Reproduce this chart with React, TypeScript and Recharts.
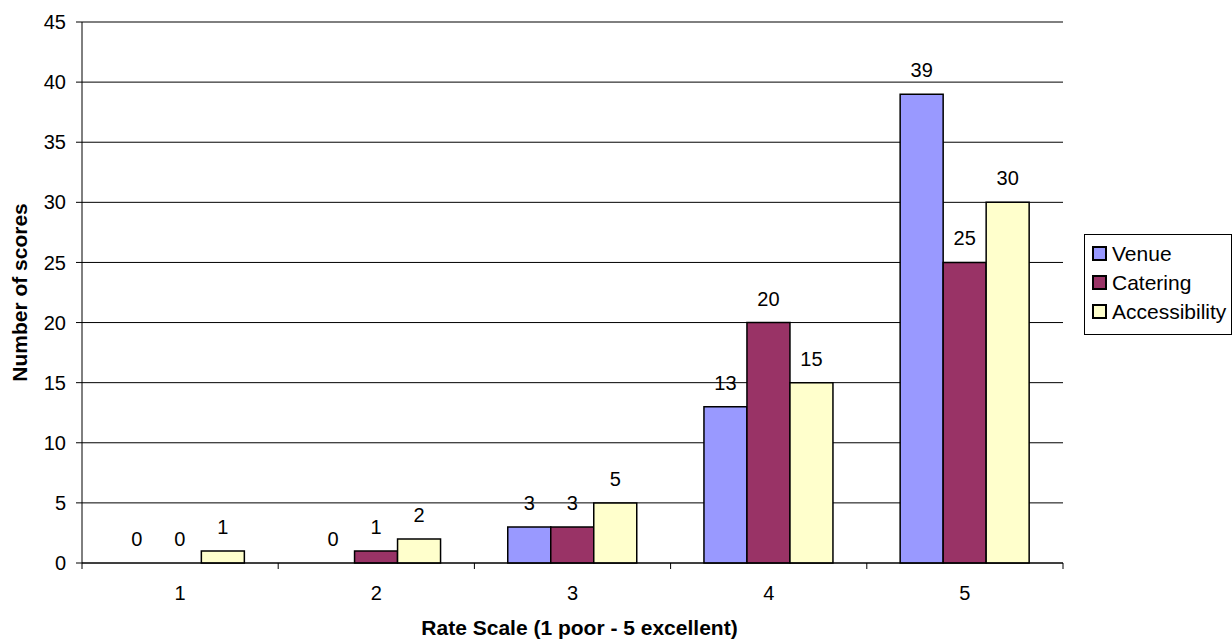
import React from "react";
import {
  BarChart,
  Bar,
  XAxis,
  YAxis,
  CartesianGrid,
  LabelList,
  Rectangle,
} from "recharts";

const categories = ["1", "2", "3", "4", "5"];
const venue = [0, 0, 3, 13, 39];
const catering = [0, 1, 3, 20, 25];
const accessibility = [1, 2, 5, 15, 30];
const yTicks = [0, 5, 10, 15, 20, 25, 30, 35, 40, 45];

const series = [
  { key: "venue", name: "Venue", color: "#9999FF" },
  { key: "catering", name: "Catering", color: "#993366" },
  { key: "accessibility", name: "Accessibility", color: "#FFFFCC" },
];

const data = categories.map((c, i) => ({
  rate: c,
  venue: venue[i],
  catering: catering[i],
  accessibility: accessibility[i],
}));

const FONT = "'Liberation Sans', Arial, sans-serif";
const W = 1232;
const H = 640;
const PLOT_LEFT = 82;
const PLOT_RIGHT = 169;
const HALF_BAND = (W - PLOT_LEFT - PLOT_RIGHT) / categories.length / 2;

function XTick(props: any) {
  const { x, y, payload, index } = props;
  const last = index === categories.length - 1;
  return (
    <g>
      <line x1={x - HALF_BAND} x2={x - HALF_BAND} y1={y} y2={y + 6} stroke="#000" />
      {last && (
        <line x1={x + HALF_BAND} x2={x + HALF_BAND} y1={y} y2={y + 6} stroke="#000" />
      )}
      <text x={x} y={y + 23} dy="0.71em" textAnchor="middle" fontSize={20} fill="#000" fontFamily={FONT}>
        {payload.value}
      </text>
    </g>
  );
}

function YLabel(props: any) {
  const vb = props.viewBox || { x: 0, y: 22, width: 82, height: 541 };
  const cx = 19;
  const cy = vb.y + vb.height / 2;
  return (
    <text
      x={cx}
      y={cy}
      transform={`rotate(-90 ${cx} ${cy})`}
      textAnchor="middle"
      dominantBaseline="central"
      fontSize={21}
      fontWeight="bold"
      fontFamily={FONT}
      fill="#000"
    >
      Number of scores
    </text>
  );
}

function XLabel(props: any) {
  const vb = props.viewBox || { x: 82, y: 563, width: 981, height: 77 };
  return (
    <text
      x={vb.x + vb.width / 2 + 7}
      y={635}
      textAnchor="middle"
      fontSize={21}
      fontWeight="bold"
      fontFamily={FONT}
      fill="#000"
    >
      Rate Scale (1 poor - 5 excellent)
    </text>
  );
}

// zero-valued bars get a hairline so their "0" label is still drawn, but no rect
const zeroMin = (value: any) => (value === 0 ? 0.01 : 0);

function makeShape(key: string) {
  return (props: any) => {
    if (props.payload && props.payload[key] === 0) return <g />;
    return <Rectangle {...props} />;
  };
}

export default function App() {
  return (
    <div
      style={{
        position: "absolute",
        left: 0,
        top: 0,
        width: W,
        height: H,
        overflow: "hidden",
        background: "#fff",
        fontFamily: FONT,
      }}
    >
      <BarChart
        width={W}
        height={H}
        data={data}
        margin={{ top: 22, right: PLOT_RIGHT, left: 0, bottom: 0 }}
        barCategoryGap="17%"
        barGap={0}
      >
        <CartesianGrid vertical={false} stroke="#000" strokeWidth={1} />
        <XAxis
          dataKey="rate"
          height={77}
          axisLine={{ stroke: "#000" }}
          tickLine={false}
          tickSize={0}
          tickMargin={0}
          tick={<XTick />}
          interval={0}
          label={<XLabel />}
        />
        <YAxis
          width={PLOT_LEFT}
          domain={[0, 45]}
          ticks={yTicks}
          interval={0}
          axisLine={{ stroke: "#000" }}
          tickLine={{ stroke: "#000" }}
          tickSize={6}
          tickMargin={10}
          tick={{ fontSize: 20, fill: "#000", fontFamily: FONT }}
          label={<YLabel />}
        />
        {series.map((s) => (
          <Bar
            key={s.key}
            dataKey={s.key}
            name={s.name}
            fill={s.color}
            stroke="#000"
            strokeWidth={1.5}
            minPointSize={zeroMin}
            shape={makeShape(s.key)}
            isAnimationActive={false}
          >
            <LabelList
              dataKey={s.key}
              position="top"
              offset={17}
              fill="#000"
              fontSize={20}
              fontFamily={FONT}
            />
          </Bar>
        ))}
      </BarChart>
      <div
        style={{
          position: "absolute",
          left: 1084,
          top: 234,
          width: 148,
          height: 101,
          border: "1px solid #000",
          boxSizing: "border-box",
          paddingTop: 6,
        }}
      >
        {series.map((s) => (
          <div
            key={s.key}
            style={{
              display: "flex",
              alignItems: "center",
              height: 33,
              marginTop: -4,
              fontSize: 21,
              color: "#000",
            }}
          >
            <span
              style={{
                display: "inline-block",
                width: 11,
                height: 11,
                marginLeft: 7,
                marginRight: 5,
                background: s.color,
                border: "2px solid #000",
              }}
            />
            {s.name}
          </div>
        ))}
      </div>
    </div>
  );
}
